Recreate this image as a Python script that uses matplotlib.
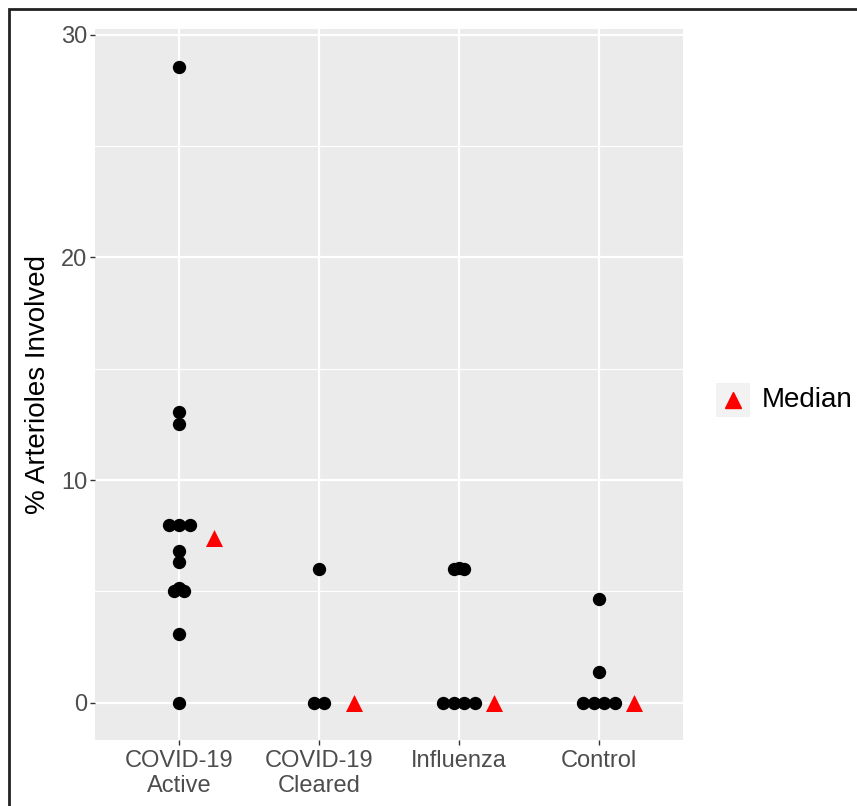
import numpy as np
import matplotlib
matplotlib.use("Agg")
import matplotlib.pyplot as plt
from matplotlib.patches import Rectangle
from matplotlib.lines import Line2D

plt.rcParams['font.family'] = ['Liberation Sans', 'DejaVu Sans']

# data
groups = ["COVID-19\nActive", "COVID-19\nCleared", "Influenza", "Control"]
active = [28.55, 13.05, 12.5, 8.0, 8.0, 8.0, 6.8, 6.3, 5.0, 5.15, 5.0, 3.1, 0.0]
cleared = [6.0, 0.0, 0.0]
influenza = [6.0, 6.03, 6.0, 0.0, 0.0, 0.0, 0.0]
control = [4.65, 1.4, 0.0, 0.0, 0.0, 0.0]
medians = [7.4, 0.0, 0.0, 0.0]

values = [active, cleared, influenza, control]


def swarm_offsets(vals, step=0.075):
    # spread tied values side by side, like a beeswarm
    vals = np.asarray(vals)
    off = np.zeros(len(vals))
    for v in np.unique(vals):
        idx = np.where(vals == v)[0]
        n = len(idx)
        off[idx] = (np.arange(n) - (n - 1) / 2) * step
    return off


W, H = 857, 806
fig = plt.figure(figsize=(W / 100, H / 100), dpi=100)
ax = fig.add_axes([95 / W, (H - 740) / H, 588 / W, 711 / H])
ax.set_facecolor('#EBEBEB')

for i, vals in enumerate(values):
    xpos = i + 1 + swarm_offsets(vals)
    ax.scatter(xpos, vals, s=92, color='black', zorder=3, linewidths=0)
ax.scatter(np.arange(1, 5) + 0.25, medians, s=150, marker='^',
           color='#FF0000', zorder=4, linewidths=0)

ax.set_xlim(0.4, 4.6)
ax.set_ylim(-1.67, 30.25)
ax.set_xticks(range(1, 5))
ax.set_xticklabels(groups, linespacing=1.2)
ax.set_yticks([0, 10, 20, 30])
ax.set_yticks([5, 15, 25], minor=True)

ax.grid(which='major', color='white', linewidth=1.6, zorder=0)
ax.grid(which='minor', axis='y', color='white', linewidth=0.8, zorder=0)
ax.set_axisbelow(True)
for s in ax.spines.values():
    s.set_visible(False)

ax.tick_params(which='major', length=3.6, width=1.0, color='#333333',
               labelsize=17, labelcolor='#4D4D4D', pad=2)
ax.tick_params(axis='x', which='major', pad=3.5)
ax.tick_params(which='minor', length=0)
ax.set_ylabel('% Arterioles Involved', fontsize=20, color='black', labelpad=7)

# legend drawn by hand to get the grey key box
fig.add_artist(Rectangle((716 / W, 1 - 417 / H), 34 / W, 34 / H,
                         transform=fig.transFigure, facecolor='#F2F2F2',
                         edgecolor='none'))
fig.add_artist(Line2D([733 / W], [1 - 400 / H], transform=fig.transFigure,
                      marker='^', markersize=12, color='#FF0000', linestyle='none'))
fig.text(762 / W, 1 - 400 / H, 'Median', fontsize=20, va='center', ha='left')

# outer frame of the image
fig.add_artist(Rectangle((9 / W, -0.05), 1.1, 1 - 9 / H + 0.05,
                         transform=fig.transFigure, fill=False,
                         edgecolor='#222222', linewidth=2))

fig.savefig('out.png', dpi=100)
